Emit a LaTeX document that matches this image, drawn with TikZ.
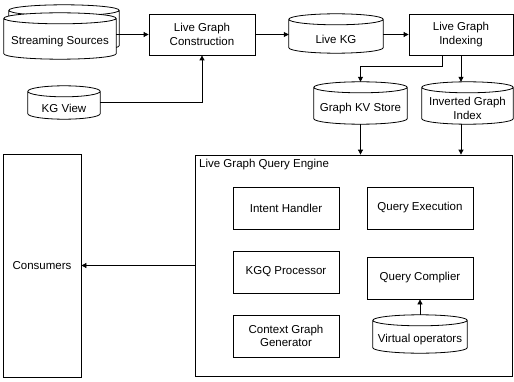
\documentclass[tikz,border=0pt]{standalone}
\usepackage{fontspec}
\setmainfont{Liberation Sans}
\usetikzlibrary{arrows.meta,backgrounds,calc}

\begin{document}
\begin{tikzpicture}[x=1pt,y=1pt,font=\fontsize{11.5}{13.3}\selectfont,
box/.style={draw, fill=white, line width=0.8pt, align=center, inner sep=0pt},
db/.style={align=center, inner sep=0pt},
dbline/.style={draw, fill=white, line width=0.8pt},
link/.style={-{Triangle[length=5pt,width=5pt]}, line width=0.8pt}]
\useasboundingbox (0,0) rectangle (514,381);
% sources and construction
\node[db, minimum width=110pt, minimum height=35pt] (srcback) at (64,347.5) {};
\node[db, minimum width=112pt, minimum height=35pt] (src) at (60,339.5) {Streaming Sources};
\node[box, minimum width=106pt, minimum height=41pt] (lgc) at (202,346.5) {Live Graph\\Construction};
\node[db, minimum width=72pt, minimum height=22pt] (kgv) at (64,273) {KG View};
\node[db, minimum width=94pt, minimum height=28pt] (lkg) at (336,342) {Live KG};
\node[box, minimum width=104pt, minimum height=41pt] (lgi) at (461,346.5) {Live Graph\\Indexing};
\node[db, minimum width=93pt, minimum height=31pt] (kvs) at (360.5,272.5) {Graph KV Store};
\node[db, minimum width=91pt, minimum height=31pt] (igi) at (467.5,272.5) {Inverted Graph\\Index};
% query engine
\node[box, fill=none, minimum width=317pt, minimum height=221pt] (qe) at (353.5,115.5) {};
\node[anchor=west, inner sep=0pt] (qelabel) at (199,216) {Live Graph Query Engine};
\node[box, minimum width=106pt, minimum height=42pt] (ih) at (286,173) {Intent Handler};
\node[box, minimum width=106pt, minimum height=42pt] (qx) at (420,173) {Query Execution};
\node[box, minimum width=106pt, minimum height=42pt] (kgq) at (286,109) {KGQ Processor};
\node[box, minimum width=106pt, minimum height=42pt] (qc) at (420,103) {Query Complier};
\node[box, minimum width=106pt, minimum height=42pt] (cgg) at (286,45) {Context Graph\\Generator};
\node[db, minimum width=94pt, minimum height=27pt] (vo) at (420,41.5) {Virtual operators};
\node[box, minimum width=78pt, minimum height=223pt] (con) at (42,115.5) {Consumers};
% cylinder outlines behind the labels
\begin{scope}[on background layer]
\foreach \db in {srcback,src,kgv,lkg,kvs,igi,vo}{
  \draw[dbline] let \p1=(\db.south west), \p2=(\db.north east), \n1={(\x2-\x1)/2} in
    (\x1,\y2+5.5pt) -- (\x1,\y1+5.5pt)
    arc[start angle=180, end angle=360, x radius=\n1, y radius=5.5pt]
    -- (\x2,\y2+5.5pt)
    arc[start angle=0, end angle=180, x radius=\n1, y radius=5.5pt] -- cycle
    (\x1,\y2+5.5pt) arc[start angle=180, end angle=360, x radius=\n1, y radius=5.5pt];
  \path (\db.north) ++(0,11) coordinate (\db-top);
}
\end{scope}
% connectors
\draw[link] (lgc.west -| src.east) -- (lgc.west);
\draw[link] ([yshift=5.5pt]kgv.east) -| (lgc.south);
\draw[link] (lgc.east) -- (lgc.east -| lkg.west);
\draw[link] (lgi.west -| lkg.east) -- (lgi.west);
\draw[link] ([xshift=-19pt]lgi.south) -- ++(0,-11) -| (kvs-top);
\draw[link] (lgi.south) -- (lgi.south |- igi-top);
\draw[link] (kvs.south) -- (kvs.south |- qe.north);
\draw[link] (lgi.south |- igi.south) -- (lgi.south |- qe.north);
\draw[link] (qe.west) -- (con.east);
\draw[link] (vo-top) -- (qc.south);
\end{tikzpicture}
\end{document}
